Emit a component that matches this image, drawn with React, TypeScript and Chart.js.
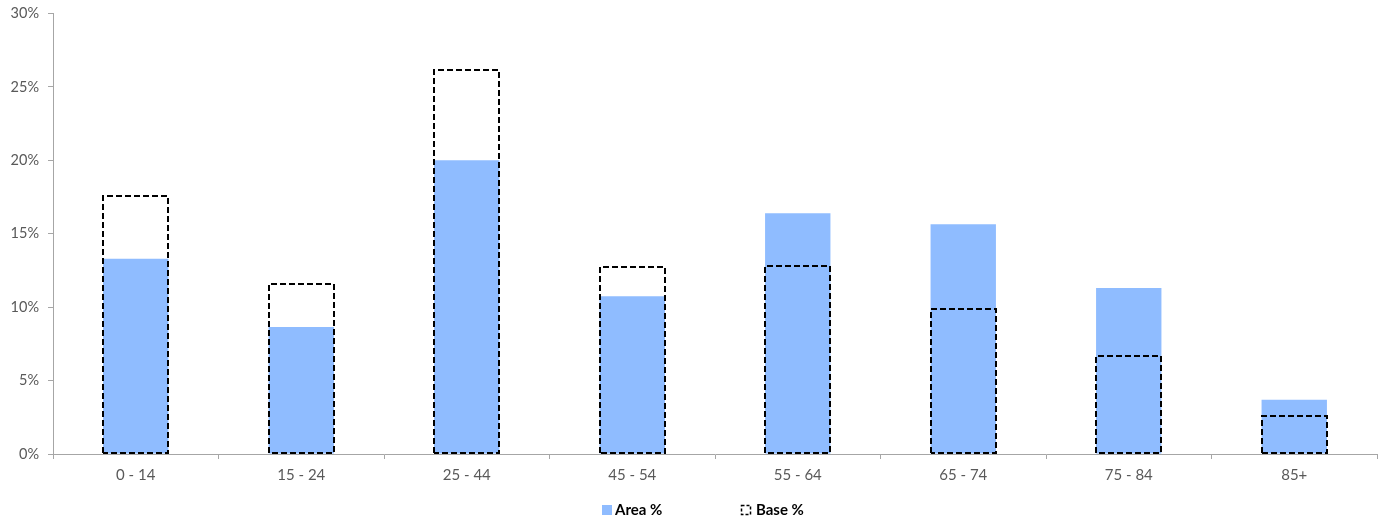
import React, { useEffect, useRef } from "react";
import { Chart, registerables } from "chart.js";

Chart.register(...registerables);

const categories = ["0 - 14", "15 - 24", "25 - 44", "45 - 54", "55 - 64", "65 - 74", "75 - 84", "85+"];
const areaPct = [13.3, 8.65, 20.0, 10.75, 16.4, 15.65, 11.3, 3.7];
const basePct = [17.55, 11.55, 26.15, 12.75, 12.8, 9.85, 6.65, 2.6];
const yTicks = [0, 5, 10, 15, 20, 25, 30];
const seriesNames = ["Area %", "Base %"];

const FONT = "Lato, 'Open Sans', sans-serif";
const AREA_COLOR = "rgb(143,188,255)";

const dashedBarsPlugin = {
  id: "dashedBars",
  afterDatasetsDraw(chart: any) {
    const meta = chart.getDatasetMeta(1);
    const ctx = chart.ctx;
    ctx.save();
    ctx.strokeStyle = "#000";
    ctx.lineWidth = 2;
    ctx.setLineDash([6, 3]);
    meta.data.forEach((bar: any) => {
      const { x, y, base, width } = bar.getProps(["x", "y", "base", "width"], true);
      const l = Math.round(x - width / 2);
      const r = Math.round(x + width / 2);
      const t = Math.round(y);
      const b = Math.round(base) - 1;
      ctx.beginPath();
      ctx.moveTo(l, b);
      ctx.lineTo(l, t);
      ctx.lineTo(r, t);
      ctx.lineTo(r, b);
      ctx.lineTo(l, b);
      ctx.stroke();
    });
    ctx.restore();
  },
};

const customLegendPlugin = {
  id: "customLegend",
  afterDraw(chart: any) {
    const ctx = chart.ctx;
    const cx = chart.width / 2;
    const yMid = 510;
    ctx.save();
    ctx.font = `bold 15px ${FONT}`;
    ctx.textBaseline = "middle";
    const ax = cx - 90.5;
    ctx.fillStyle = AREA_COLOR;
    ctx.fillRect(ax, yMid - 5, 10, 10);
    ctx.fillStyle = "#000";
    ctx.fillText(seriesNames[0], ax + 13, yMid);
    const bx = cx + 48.5;
    ctx.strokeStyle = "#000";
    ctx.lineWidth = 1.5;
    ctx.setLineDash([3, 2]);
    ctx.strokeRect(bx + 0.5, yMid - 4.5, 9, 9);
    ctx.setLineDash([]);
    ctx.fillText(seriesNames[1], bx + 15, yMid);
    ctx.restore();
  },
};

export default function App() {
  const ref = useRef<HTMLCanvasElement | null>(null);

  useEffect(() => {
    if (!ref.current) return;
    const chart = new Chart(ref.current, {
      type: "bar",
      data: {
        labels: categories,
        datasets: [
          {
            label: seriesNames[0],
            data: areaPct,
            backgroundColor: AREA_COLOR,
            borderWidth: 0,
            grouped: false,
            barPercentage: 0.395,
            categoryPercentage: 1,
            order: 2,
          },
          {
            label: seriesNames[1],
            data: basePct,
            backgroundColor: "rgba(0,0,0,0)",
            borderWidth: 0,
            grouped: false,
            barPercentage: 0.395,
            categoryPercentage: 1,
            order: 1,
          },
        ],
      },
      options: {
        responsive: false,
        animation: false,
        maintainAspectRatio: false,
        layout: { padding: { left: 0, right: 8, top: 13.5, bottom: 33 } },
        plugins: {
          legend: { display: false },
          tooltip: { enabled: false },
        },
        scales: {
          x: {
            grid: {
              offset: true,
              drawOnChartArea: false,
              drawTicks: true,
              tickLength: 5,
              color: "#a6a6a6",
            },
            border: { color: "#a6a6a6", width: 1 },
            ticks: {
              color: "#595959",
              font: { family: FONT, size: 15 },
              padding: 7,
            },
            afterFit: (s: any) => {
              s.height = 35;
              s.paddingLeft = 0;
              s.paddingRight = 0;
            },
          },
          y: {
            min: 0,
            max: 30,
            afterBuildTicks: (s: any) => {
              s.ticks = yTicks.map((v) => ({ value: v }));
            },
            grid: {
              drawOnChartArea: false,
              drawTicks: true,
              tickLength: 5,
              color: "#a6a6a6",
            },
            border: { color: "#a6a6a6", width: 1 },
            ticks: {
              color: "#595959",
              font: { family: FONT, size: 14.5 },
              padding: 9,
              callback: (v: any) => `${v}%`,
            },
            afterFit: (s: any) => {
              s.width = 53;
              s.paddingTop = 0;
              s.paddingBottom = 0;
            },
          },
        },
      },
      plugins: [dashedBarsPlugin, customLegendPlugin],
    });
    return () => chart.destroy();
  }, []);

  return (
    <div style={{ position: "fixed", left: 0, top: 0, width: 1385, height: 522, background: "#fff" }}>
      <canvas ref={ref} width={1385} height={522} style={{ width: 1385, height: 522 }} />
    </div>
  );
}
